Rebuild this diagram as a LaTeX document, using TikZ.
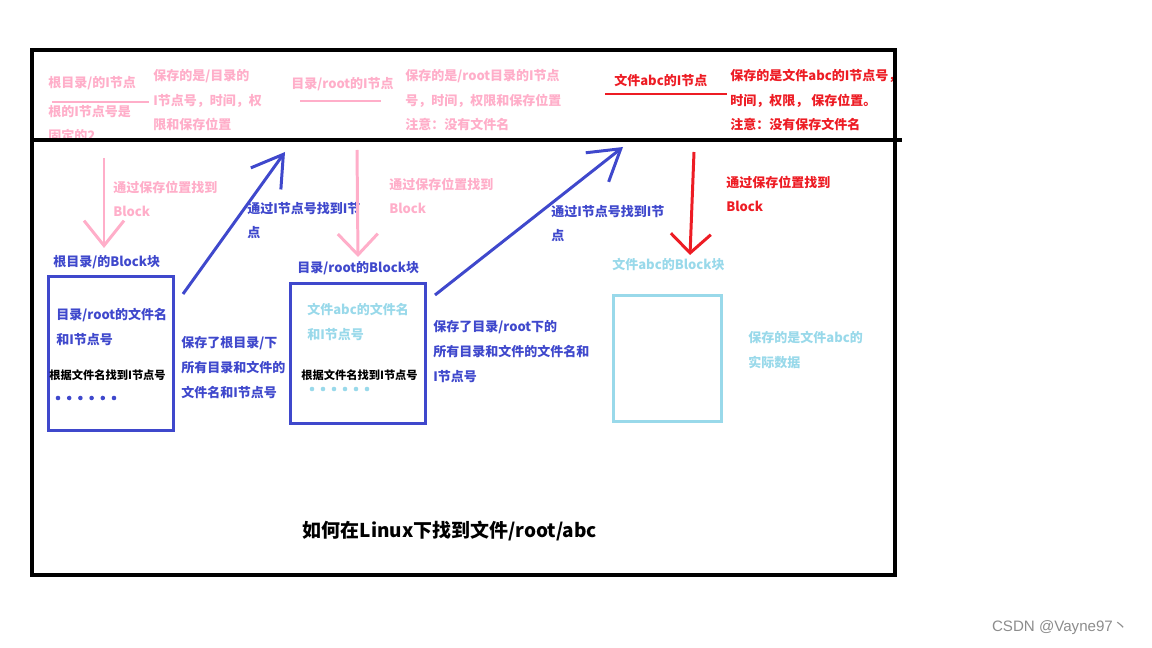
\documentclass[tikz,border=0pt]{standalone}
\usepackage{fontspec}
\setmainfont{Noto Sans CJK SC}
\newfontfamily\wmfont{Liberation Sans}
\usetikzlibrary{arrows.meta}
\definecolor{rosa}{RGB}{255,174,201}
\definecolor{indigo}{RGB}{63,72,204}
\definecolor{rot}{RGB}{237,28,36}
\definecolor{tuerkis}{RGB}{153,217,234}

\begin{document}
\begin{tikzpicture}[
		x=0.02cm, y=-0.02cm,
		font=\bfseries\fontsize{7.4}{14.2}\selectfont,
		txt/.style={anchor=base west, inner sep=0pt, align=left},
		klein/.style={txt, font=\bfseries\fontsize{6.4}{8}\selectfont},
		blk/.style={draw, line width=1.7pt, inner sep=0pt},
		uline/.style={line width=1.7pt},
		arr/.style={line width=1.7pt, -{Straight Barb[length=#1, width=0.8cm]}},
		arr/.default=0.45cm,
		punkt/.style={circle, fill, inner sep=0pt, minimum size=2.6pt},
	]
		\useasboundingbox (0,0) rectangle (1152,648);

		% Obere Zeile: I-Knoten mit Erklaerung (Grundlinie der letzten Zeile)
		\node[txt, rosa] (rootino) at (48,88) {根目录/的I节点};
		\node[txt, rosa] (rootfix) at (48,141) {根的I节点号是\\固定的2};
		\node[txt, rosa] (rootinfo) at (153,130)
			{保存的是/目录的\\I节点号，时间，权\\限和保存位置};
		\node[txt, rosa] (dirino) at (291,89) {目录/root的I节点};
		\node[txt, rosa] (dirinfo) at (405,130)
			{保存的是/root目录的I节点\\号，时间，权限和保存位置\\注意：没有文件名};
		\node[txt, rot] (abcino) at (614,86) {文件abc的I节点};
		\node[txt, rot] (abcinfo) at (730,130)
			{保存的是文件abc的I节点号，\\时间，权限， 保存位置。\\注意：没有保存文件名};

		% Unterstriche
		\draw[uline, rosa] (52,102) -- (149,102);
		\draw[uline, rosa] (300,101) -- (381,101);
		\draw[uline, rot] (605,94) -- (727,94);

		% Rahmen und Trennlinie
		\draw[line width=2.3pt] (32,50) rectangle (895,575);
		\draw[line width=2.3pt] (30,140) -- (902,140);

		% Block des Wurzelverzeichnisses
		\node[txt, indigo] (rootlbl) at (53,267) {根目录/的Block块};
		\node[blk, draw=indigo, minimum width=2.5cm, minimum height=3.08cm]
			(rootblk) at (111,353.5) {};
		\node[txt, indigo] (rootent) at (56,344) {目录/root的文件名\\和I节点号};
		\node[klein] (rootsuch) at (49,379) {根据文件名找到I节点号};
		\foreach \i in {0,...,5}
			\node[punkt, indigo] (rootdot\i) at (58+11.2*\i,398) {};
		\node[txt, indigo] (rootnote) at (181,397)
			{保存了根目录/下\\所有目录和文件的\\文件名和I节点号};

		% Block von /root
		\node[txt, indigo] (dirlbl) at (297,273) {目录/root的Block块};
		\node[blk, draw=indigo, minimum width=2.7cm, minimum height=2.8cm]
			(dirblk) at (358,353.5) {};
		\node[txt, tuerkis] (dirent) at (307,339) {文件abc的文件名\\和I节点号};
		\node[klein] (dirsuch) at (301,379) {根据文件名找到I节点号};
		\foreach \i in {0,...,5}
			\node[punkt, tuerkis] (dirdot\i) at (312+11*\i,389) {};
		\node[txt, indigo] (dirnote) at (433,381)
			{保存了目录/root下的\\所有目录和文件的文件名和\\I节点号};

		% Block der Datei abc
		\node[txt, tuerkis] (abclbl) at (612,270) {文件abc的Block块};
		\node[blk, draw=tuerkis, minimum width=2.16cm, minimum height=2.52cm]
			(abcblk) at (667.5,358.5) {};
		\node[txt, tuerkis] (abcnote) at (748,367) {保存的是文件abc的\\实际数据};

		% Pfeile mit Beschriftung
		\coordinate (p1a) at (104,158);
		\coordinate (p1b) at (104,248);
		\draw[arr=0.5cm, rosa] (p1a) -- (p1b);
		\node[txt, rosa] (p1txt) at (113,217) {通过保存位置找到\\Block};

		\coordinate (b1a) at (183,294);
		\coordinate (b1b) at (285,152);
		\draw[line width=1.7pt, indigo, -{Straight Barb[length=0.6cm, width=0.74cm]}]
			(b1a) -- (b1b);
		\node[txt, indigo] (b1txt) at (247,238) {通过I节点号找到I节\\点};

		\coordinate (p2a) at (357,150);
		\coordinate (p2b) at (358,257);
		\draw[arr=0.42cm, rosa] (p2a) -- (p2b);
		\node[txt, rosa] (p2txt) at (389,214) {通过保存位置找到\\Block};

		\coordinate (b2a) at (435,295);
		\coordinate (b2b) at (623,147);
		\draw[line width=1.7pt, indigo, -{Straight Barb[length=0.6cm, width=0.74cm]}]
			(b2a) -- (b2b);
		\node[txt, indigo] (b2txt) at (551,241) {通过I节点号找到I节\\点};

		\coordinate (r1a) at (694,152);
		\coordinate (r1b) at (690,255);
		\draw[arr=0.38cm, rot] (r1a) -- (r1b);
		\node[txt, rot] (r1txt) at (726,212) {通过保存位置找到\\Block};

		% Titel und Wasserzeichen
		\node[font=\bfseries\fontsize{10.8}{12}\selectfont] (titel) at (450,531)
			{如何在Linux下找到文件/root/abc};
		\node[font=\mdseries\fontsize{8.6}{10}\selectfont, text=black!45] (wm) at (1060,628)
			{{\wmfont CSDN @Vayne97}丶};
	\end{tikzpicture}
\end{document}
